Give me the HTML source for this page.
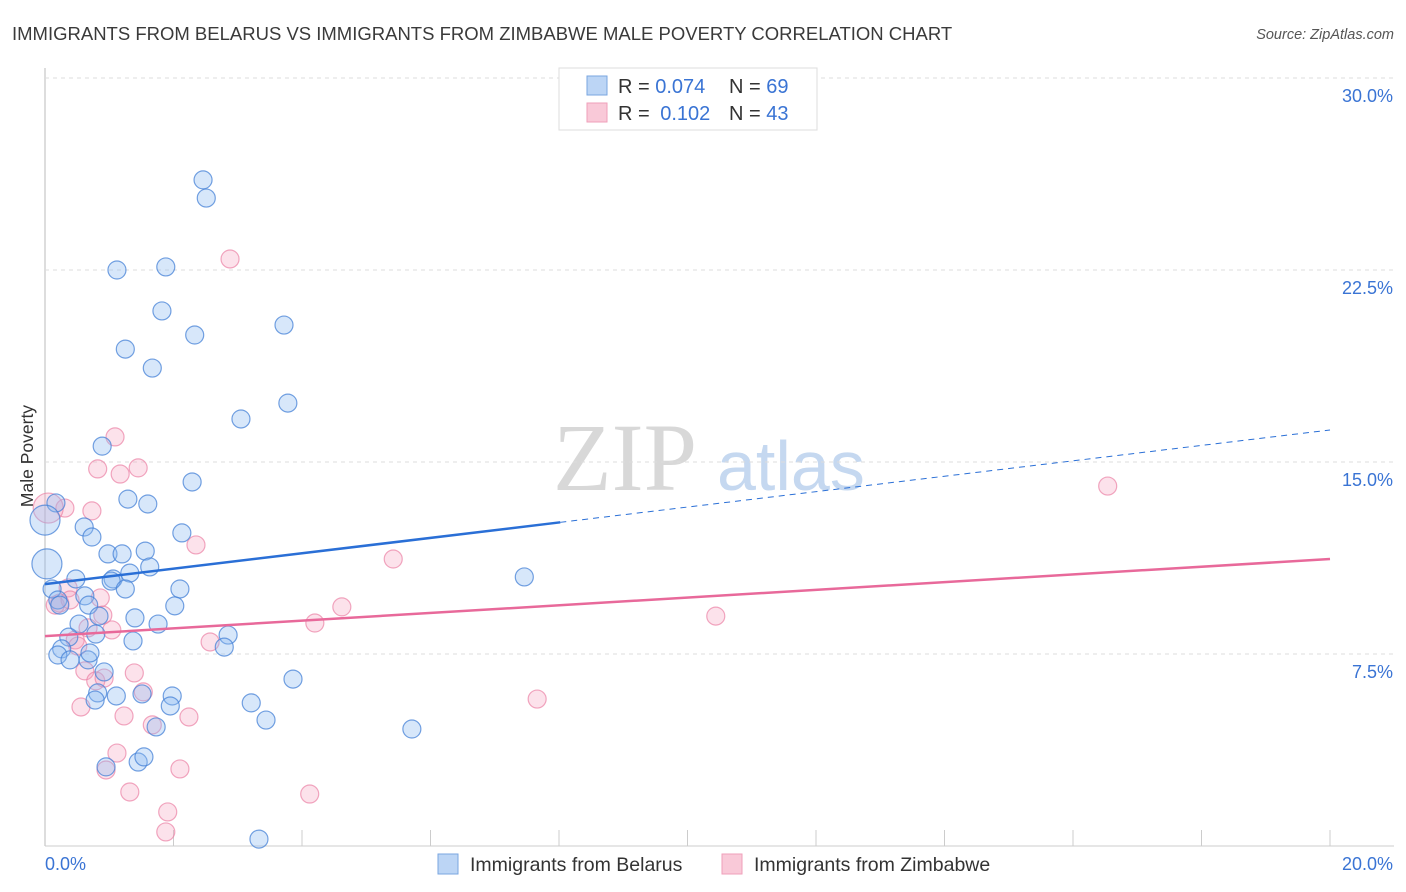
<!DOCTYPE html>
<html><head><meta charset="utf-8"><style>
body{margin:0;background:#fff;font-family:"Liberation Sans",sans-serif;}
svg{display:block}
</style></head><body>
<svg id="c" width="1406" height="892" xmlns="http://www.w3.org/2000/svg">
<text x="12" y="40" font-size="18.5" fill="#3a3a3a">IMMIGRANTS FROM BELARUS VS IMMIGRANTS FROM ZIMBABWE MALE POVERTY CORRELATION CHART</text>
<text x="1394" y="39" font-size="14.5" fill="#555" font-style="italic" text-anchor="end">Source: ZipAtlas.com</text>
<text x="33" y="456" font-size="17.5" fill="#333" text-anchor="middle" transform="rotate(-90 33 456)">Male Poverty</text>
<g><text x="553" y="490" font-family="Liberation Serif,serif" font-size="96" fill="#d8d8d8">ZIP</text><text x="717" y="490" font-size="70" fill="#c5d8f0">atlas</text></g>
<g id="grid"></g><g id="pts"></g><g id="lines"></g>
<g>
<rect x="559" y="68" width="258" height="62" fill="#fff" stroke="#ddd"/>
<rect x="587" y="76" width="20" height="19" fill="#bcd5f5" stroke="#7aa6e0"/>
<rect x="587" y="103" width="20" height="19" fill="#f9c9d8" stroke="#ef9fba"/>
<text x="618" y="93" font-size="20" fill="#333">R = <tspan fill="#3a74d4">0.074</tspan></text>
<text x="729" y="93" font-size="20" fill="#333">N = <tspan fill="#3a74d4">69</tspan></text>
<text x="618" y="120" font-size="20" fill="#333">R = <tspan fill="#3a74d4" dx="5">0.102</tspan></text>
<text x="729" y="120" font-size="20" fill="#333">N = <tspan fill="#3a74d4">43</tspan></text>
</g>
<g>
<rect x="438" y="854" width="20" height="20" fill="#bcd5f5" stroke="#7aa6e0"/>
<text x="470" y="871" font-size="19.5" fill="#333">Immigrants from Belarus</text>
<rect x="722" y="854" width="20" height="20" fill="#f9c9d8" stroke="#ef9fba"/>
<text x="754" y="871" font-size="19.5" fill="#333">Immigrants from Zimbabwe</text>
</g>
</svg>
<script>
const xTicks=[0,2,4,6,8,10,12,14,16,18,20];
const yTicks=[7.5,15,22.5,30];
const blueX=[2.46,2.51,1.12,1.88,1.82,2.33,3.72,1.25,1.67,3.78,3.05,0.89,2.29,1.29,1.60,0.17,0.61,0.73,2.13,0.98,1.20,1.56,1.63,1.32,1.06,1.03,0.48,0.11,1.25,2.10,0.62,0.20,0.68,2.02,0.84,1.40,0.53,1.76,0.37,2.85,1.37,2.79,0.26,0.20,0.39,0.67,0.92,3.86,0.82,1.11,1.98,0.78,1.51,1.95,3.21,3.44,1.73,5.71,0.95,1.45,1.54,3.33,7.46,0.03,0.0,0.79,0.70,0.23];
const blueY=[26.02,25.31,22.50,22.62,20.90,19.96,20.35,19.41,18.67,17.30,16.68,15.62,14.22,13.55,13.36,13.40,12.46,12.07,12.23,11.41,11.41,11.52,10.90,10.66,10.43,10.35,10.43,10.04,10.04,10.04,9.77,9.61,9.41,9.38,8.98,8.91,8.67,8.67,8.16,8.24,8.01,7.77,7.70,7.46,7.27,7.27,6.80,6.52,5.98,5.86,5.86,5.70,5.94,5.47,5.59,4.92,4.65,4.57,3.09,3.28,3.48,0.27,10.51,11.02,12.73,8.28,7.54,9.41];
const pinkX=[2.88,1.09,0.82,1.17,1.45,0.31,0.73,2.35,5.42,0.05,0.36,0.86,0.23,0.16,1.04,0.67,2.57,4.62,4.20,10.44,16.54,0.47,0.62,0.79,0.92,1.39,1.53,1.23,0.56,2.24,1.67,7.66,1.12,2.10,0.95,1.32,4.12,1.91,1.88,0.90,0.51,0.39];
const pinkY=[22.93,15.98,14.73,14.53,14.77,13.20,13.09,11.76,11.21,13.20,10.08,9.69,9.49,9.41,8.44,8.52,7.97,9.34,8.71,8.98,14.06,8.05,6.84,6.45,6.56,6.76,6.02,5.08,5.43,5.04,4.73,5.74,3.63,3.01,2.97,2.11,2.03,1.33,0.55,9.02,7.81,9.61];
const blueBig=[63,64];const pinkBig=[9];
const blueTrend=[10.23,16.25];const blueSolidEnd=8.02;
const pinkTrend=[8.20,11.21];
const NS="http://www.w3.org/2000/svg";
const X=v=>45+v*64.25, Y=v=>846-v*25.6;
function mk(t,a,p){const e=document.createElementNS(NS,t);for(const k in a)e.setAttribute(k,a[k]);p.appendChild(e);return e;}
const g=document.getElementById('grid');
mk('line',{x1:45,y1:68,x2:45,y2:846,stroke:'#bbb'},g);
mk('line',{x1:45,y1:846,x2:1394,y2:846,stroke:'#ccc'},g);
yTicks.forEach(t=>{const l=mk('line',{x1:45,y1:Y(t),x2:1394,y2:Y(t),stroke:'#ddd','stroke-dasharray':'4,4'},g);


const tx=mk('text',{x:1393,y:Y(t)+24,'font-size':18,fill:'#3a74d4','text-anchor':'end'},g);tx.textContent=t.toFixed(1)+'%';

});
xTicks.forEach((t,i)=>{if(i>0){const l=mk('line',{x1:X(t),y1:830,x2:X(t),y2:846,stroke:'#ccc'},g);

}});
[[0,'start',45],[20,'end',1393]].forEach(([t,a,x])=>{const tx=mk('text',{x:x,y:870,'font-size':18,fill:'#3a74d4','text-anchor':a},g);tx.textContent=t.toFixed(1)+'%';

});
const p=document.getElementById('pts');
pinkX.forEach((x,i)=>{const c=mk('circle',{cx:X(x),cy:Y(pinkY[i]),r:pinkBig.includes(i)?15:9,fill:'rgba(245,160,190,0.3)',stroke:'rgba(235,130,165,0.7)','stroke-width':1.2},p);

});
blueX.forEach((x,i)=>{const c=mk('circle',{cx:X(x),cy:Y(blueY[i]),r:blueBig.includes(i)?15:9,fill:'rgba(140,185,240,0.35)',stroke:'rgba(70,130,215,0.75)','stroke-width':1.2},p);

});
const L=document.getElementById('lines');
const bY=x=>blueTrend[0]+(blueTrend[1]-blueTrend[0])*x/20;
let a=mk('line',{x1:X(0),y1:Y(bY(0)),x2:X(blueSolidEnd),y2:Y(bY(blueSolidEnd)),stroke:'#2a6fd6','stroke-width':2.5},L);


a=mk('line',{x1:X(blueSolidEnd),y1:Y(bY(blueSolidEnd)),x2:X(20),y2:Y(bY(20)),stroke:'#2a6fd6','stroke-width':1,'stroke-dasharray':'6,5'},L);


a=mk('line',{x1:X(0),y1:Y(pinkTrend[0]),x2:X(20),y2:Y(pinkTrend[1]),stroke:'#e8699a','stroke-width':2.5},L);


</script>
</body></html>
